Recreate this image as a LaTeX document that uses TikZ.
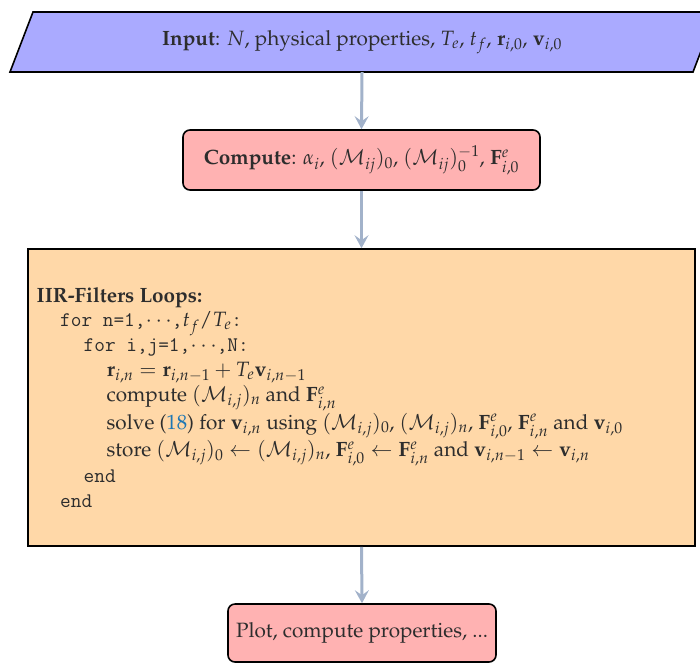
\documentclass[tikz,border=0pt]{standalone}
\usepackage[T1]{fontenc}
\usepackage{mathpazo}
\usetikzlibrary{arrows.meta}
\newcommand{\cmttx}[1]{{\fontencoding{OT1}\fontfamily{cmtt}\selectfont #1}}
\definecolor{inblue}{RGB}{170,170,255}
\definecolor{cpink}{RGB}{255,178,178}
\definecolor{loopor}{RGB}{255,216,168}
\definecolor{arrowc}{RGB}{162,178,202}
\definecolor{linkblue}{RGB}{31,119,180}
\definecolor{txt}{RGB}{45,45,45}
\tikzset{
  box/.style={draw=black, line width=1.6pt, rounded corners=7pt, fill=cpink,
    minimum height=60pt, text=txt, inner sep=0pt},
  flow/.style={draw=arrowc, line width=3pt,
    -{Stealth[length=13pt,width=14pt,inset=5pt]}},
  codeline/.style={anchor=base west, inner sep=0pt, text=txt},
}
\begin{document}
\begin{tikzpicture}[x=1pt,y=-1pt,font=\fontsize{20.7}{25}\selectfont]
\useasboundingbox (0,0) rectangle (700,662);
% input parallelogram
\fill[inblue] (33,12) -- (716,12) -- (693,72) -- (10,72) -- cycle;
\draw[line width=1.6pt] (716,12) -- (33,12) -- (10,72) -- (693,72) -- (716,12);
\node[minimum width=600pt, minimum height=60pt, inner sep=0pt, text=txt] (in) at (362,42)
  {\textbf{Input}: $N$, physical properties, $T_e$, $t_f$, $\mathbf{r}_{i,0}$, $\mathbf{v}_{i,0}$};
% compute
\node[box, minimum width=357pt] (cp) at (361.5,160)
  {\textbf{Compute}: $\alpha_i$, $(\mathcal{M}_{ij})_0$, $(\mathcal{M}_{ij})_0^{-1}$, $\mathbf{F}^e_{i,0}$};
% loop box
\node[draw=black, line width=1.6pt, fill=loopor, minimum width=667pt, minimum height=297pt,
  inner sep=0pt] (lp) at (361.5,397.5) {};
\node[codeline] (l1) at (36.5,302) {\textbf{IIR-Filters Loops:}};
\node[codeline] (l2) at (60,326.7) {\cmttx{for n=1,}$\cdots$\cmttx{,}$t_f/T_e$\cmttx{:}};
\node[codeline] (l3) at (83.5,351.7) {\cmttx{for i,j=1,}$\cdots$\cmttx{,N:}};
\node[codeline] (l4) at (106.5,376.7) {$\mathbf{r}_{i,n} = \mathbf{r}_{i,n-1} + T_e\mathbf{v}_{i,n-1}$};
\node[codeline] (l5) at (106.5,401.7) {compute $(\mathcal{M}_{i,j})_n$ and $\mathbf{F}^e_{i,n}$};
\node[codeline] (l6) at (106.5,429) {solve ({\color{linkblue}18}) for $\mathbf{v}_{i,n}$ using $(\mathcal{M}_{i,j})_0$, $(\mathcal{M}_{i,j})_n$, $\mathbf{F}^e_{i,0}$, $\mathbf{F}^e_{i,n}$ and $\mathbf{v}_{i,0}$};
\node[codeline] (l7) at (106.5,456.7) {store $(\mathcal{M}_{i,j})_0 \leftarrow (\mathcal{M}_{i,j})_n$, $\mathbf{F}^e_{i,0} \leftarrow \mathbf{F}^e_{i,n}$ and $\mathbf{v}_{i,n-1} \leftarrow \mathbf{v}_{i,n}$};
\node[codeline] (l8) at (83.5,482.3) {\cmttx{end}};
\node[codeline] (l9) at (60,507.3) {\cmttx{end}};
% plot
\node[box, minimum width=268pt, minimum height=58pt] (pl) at (362,633)
  {Plot, compute properties, ...};
% arrows
\draw[flow] (in.south) -- (cp.north);
\draw[flow] (cp.south) -- (lp.north);
\draw[flow] (lp.south) -- (pl.north);
\end{tikzpicture}
\end{document}
